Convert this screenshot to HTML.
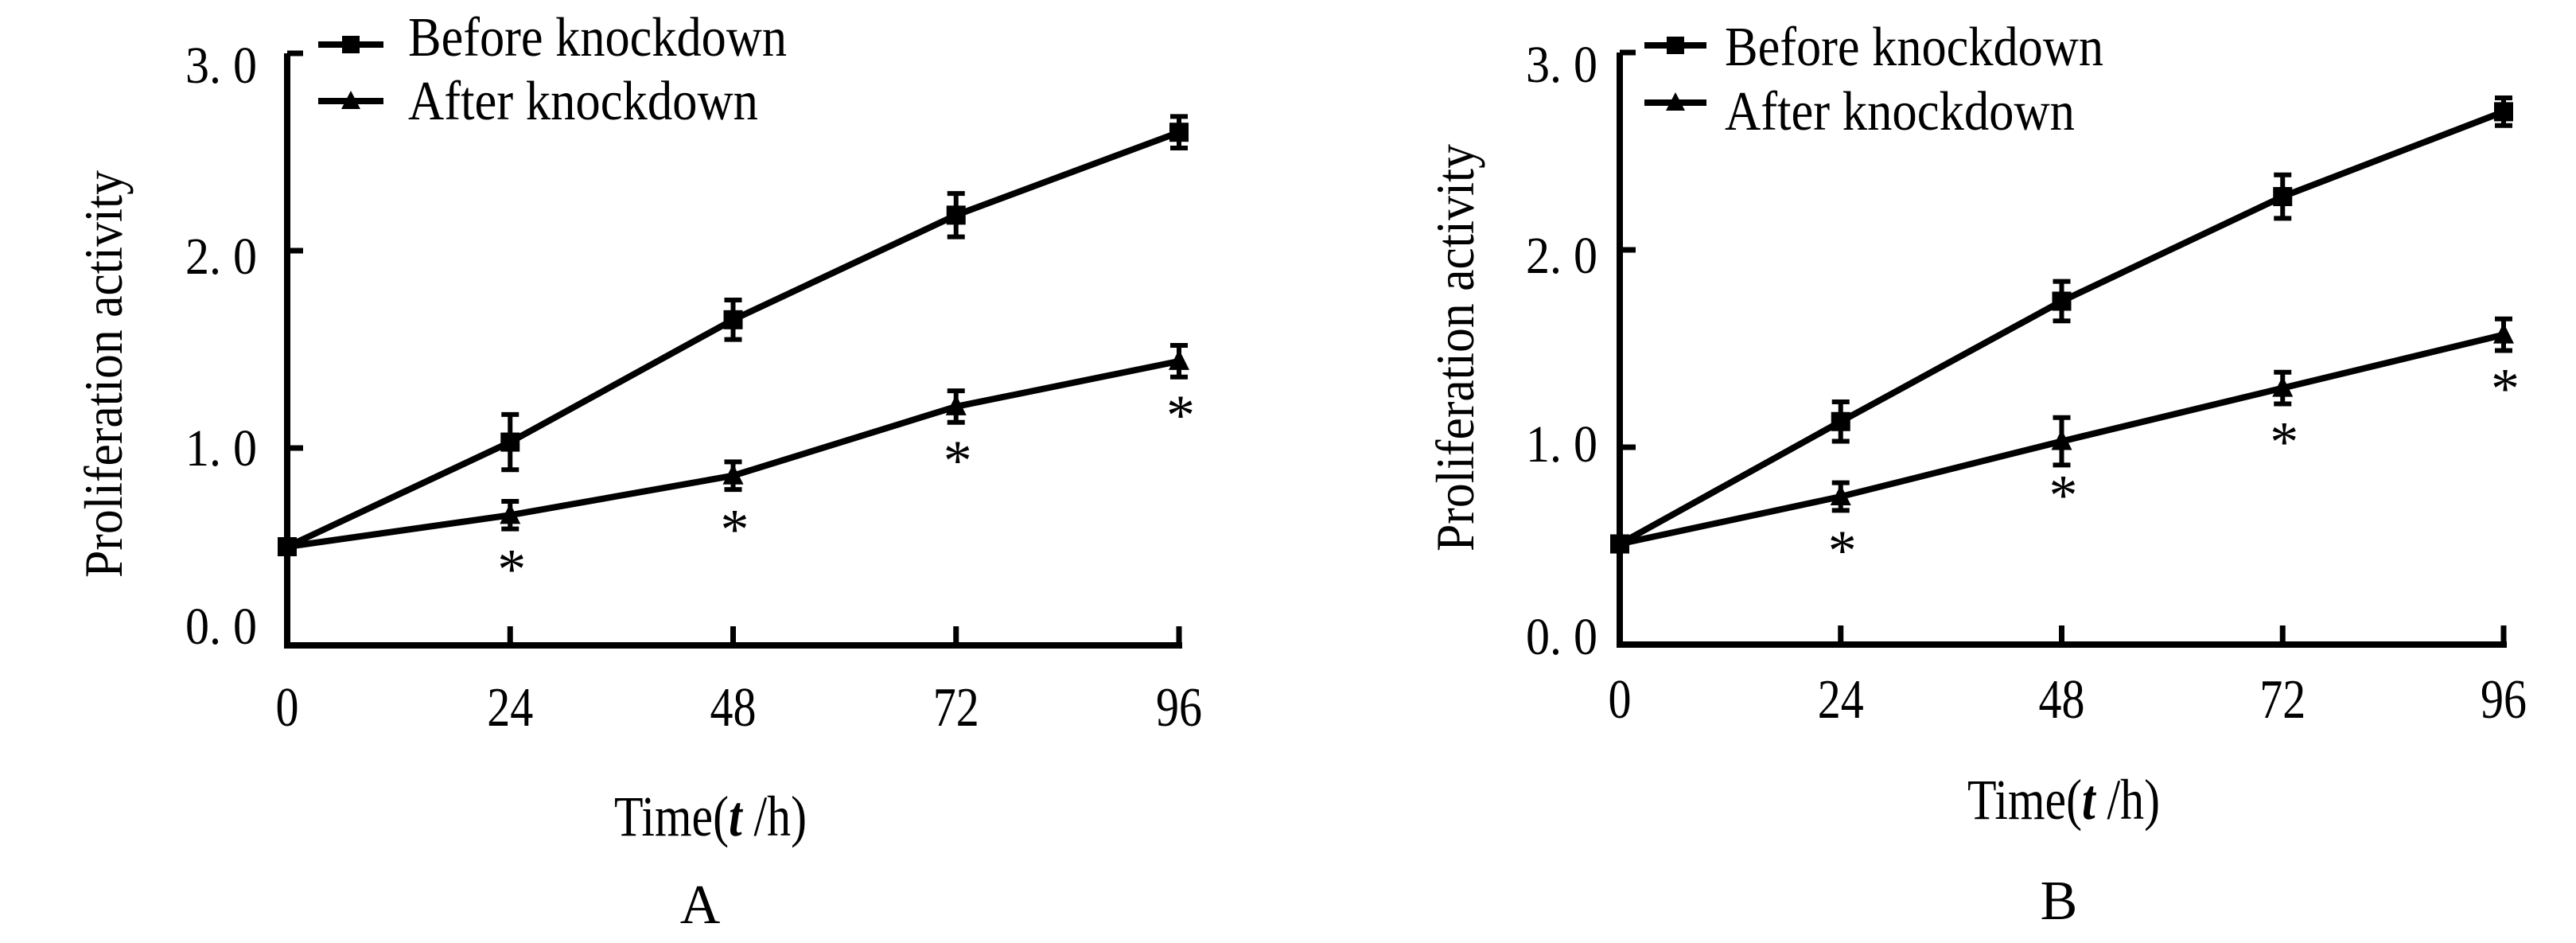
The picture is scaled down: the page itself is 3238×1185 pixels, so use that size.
<!DOCTYPE html>
<html><head><meta charset="utf-8"><style>
html,body{margin:0;padding:0;background:#fff;}
svg{display:block;}
text{font-family:"Liberation Serif",serif;fill:#000;}
</style></head><body>
<svg id="chart" xmlns="http://www.w3.org/2000/svg" width="3238" height="1185" viewBox="0 0 3238 1185"></svg>
<script>
const times = [0, 24, 48, 72, 96];
const xTickLabels = ["0", "24", "48", "72", "96"];
const yTicks = [0, 1, 2, 3];
const yTickLabels = ["0. 0", "1. 0", "2. 0", "3. 0"];
const beforeA = [0.50, 1.03, 1.65, 2.18, 2.60];
const beforeAErr = [0.03, 0.14, 0.10, 0.11, 0.08];
const afterA = [0.50, 0.66, 0.86, 1.21, 1.44];
const afterAErr = [0.03, 0.07, 0.07, 0.08, 0.08];
const beforeB = [0.51, 1.13, 1.74, 2.27, 2.70];
const beforeBErr = [0.03, 0.10, 0.10, 0.11, 0.07];
const afterB = [0.51, 0.75, 1.03, 1.30, 1.57];
const afterBErr = [0.03, 0.07, 0.12, 0.08, 0.08];
const sigFlags = [0, 1, 1, 1, 1];

const NS = "http://www.w3.org/2000/svg";
const svg = document.getElementById('chart');
function mk(tag, attrs, parent){
  const e = document.createElementNS(NS, tag);
  for (const k in attrs) e.setAttribute(k, attrs[k]);
  (parent || svg).appendChild(e);
  return e;
}
const panels = [
  {id:'a', x0:361, x96:1482, yZero:811, unit:248, before:beforeA, bErr:beforeAErr, after:afterA, aErr:afterAErr,
   legLine:[400,482], legY:[56,127], legText:513, legBase:[70,150],
   yLabRight:323, yLabBase:[809,585,344,104], yTitle:[131,470],
   xLabBase:912, xTitle:[893,1050], label:'A', labelPos:[880,1160]},
  {id:'b', x0:2036, x96:3147, yZero:810, unit:248, before:beforeB, bErr:beforeBErr, after:afterB, aErr:afterBErr,
   legLine:[2067,2145], legY:[57,129], legText:2168, legBase:[82,163],
   yLabRight:2008, yLabBase:[822,580,343,103], yTitle:[1830,437],
   xLabBase:902, xTitle:[2594,1029], label:'B', labelPos:[2588,1155]}
];
panels.forEach(p => {
  const g = mk('g', {});
  
  
  const X = t => p.x0 + (p.x96 - p.x0) * t / 96;
  const Y = v => p.yZero - v * p.unit;
  const ax = mk('path', {d:`M${p.x0},${Y(3)} V${p.yZero} H${X(96)+4}`, fill:'none', stroke:'#000', 'stroke-width':8}, g);
  
  
  yTicks.forEach((v,i) => {
    const tk = mk('line', {x1:p.x0, x2:p.x0+20, y1:Y(v), y2:Y(v), stroke:'#000', 'stroke-width':7}, g);
    
    
    const tl = mk('text', {x:p.yLabRight, y:p.yLabBase[i], 'font-size':66, 'text-anchor':'end', textLength:90, lengthAdjust:'spacingAndGlyphs'}, g);
    tl.textContent = yTickLabels[i];
    
    
  });
  times.forEach((t,i) => {
    if (i > 0) {
      const tk = mk('line', {x1:X(t), x2:X(t), y1:p.yZero, y2:p.yZero-24, stroke:'#000', 'stroke-width':7}, g);
      
      
    }
    const w = xTickLabels[i].length * 29;
    const tl = mk('text', {x:X(t), y:p.xLabBase, 'font-size':70, 'text-anchor':'middle', textLength:w, lengthAdjust:'spacingAndGlyphs'}, g);
    tl.textContent = xTickLabels[i];
    
    
  });
  [['before', p.before, p.bErr], ['after', p.after, p.aErr]].forEach(([name, vals, errs]) => {
    const pts = vals.map((v,i) => `${X(times[i])},${Y(v)}`).join(' ');
    const ln = mk('polyline', {points:pts, fill:'none', stroke:'#000', 'stroke-width':8}, g);
    
    
    vals.forEach((v,i) => {
      const cx = X(times[i]), cy = Y(v);
      if (i > 0) {
        const eb = mk('path', {d:`M${cx},${Y(v+errs[i])} V${Y(v-errs[i])} M${cx-11},${Y(v+errs[i])} H${cx+11} M${cx-11},${Y(v-errs[i])} H${cx+11}`, fill:'none', stroke:'#000', 'stroke-width':6}, g);
        
        
      }
      let m;
      if (name === 'before' || i === 0) m = mk('rect', {x:cx-12, y:cy-12, width:24, height:24, fill:'#000'}, g);
      else m = mk('polygon', {points:`${cx},${cy-15} ${cx-13},${cy+11} ${cx+13},${cy+11}`, fill:'#000'}, g);
      
      
    });
  });
  p.after.forEach((v,i) => {
    if (!sigFlags[i]) return;
    const s = mk('text', {x:X(times[i])+2, y:Y(v)+92, 'font-size':72, 'text-anchor':'middle'}, g);
    s.textContent = '*';
    
    
  });
  [['Before knockdown', 'square', 0], ['After knockdown', 'tri', 1]].forEach(([lab, mkType, j]) => {
    const lg = mk('g', {}, g);
    
    
    const y = p.legY[j], cx = (p.legLine[0] + p.legLine[1]) / 2;
    mk('line', {x1:p.legLine[0], x2:p.legLine[1], y1:y, y2:y, stroke:'#000', 'stroke-width':8}, lg);
    if (mkType === 'square') mk('rect', {x:cx-11, y:y-11, width:22, height:22, fill:'#000'}, lg);
    else mk('polygon', {points:`${cx},${y-13} ${cx-12},${y+10} ${cx+12},${y+10}`, fill:'#000'}, lg);
    const t = mk('text', {x:p.legText, y:p.legBase[j], 'font-size':70, textLength: j===0 ? 476 : 440, lengthAdjust:'spacingAndGlyphs'}, lg);
    t.textContent = lab;
  });
  const yt = mk('text', {x:0, y:0, 'font-size':68, 'text-anchor':'middle', textLength:512, lengthAdjust:'spacingAndGlyphs', transform:`translate(${p.yTitle[0]+22},${p.yTitle[1]}) rotate(-90)`}, g);
  yt.textContent = 'Proliferation activity';
  
  
  const xt = mk('text', {x:p.xTitle[0], y:p.xTitle[1], 'font-size':72, 'text-anchor':'middle', textLength:242, lengthAdjust:'spacingAndGlyphs'}, g);
  
  
  xt.innerHTML = 'Time(<tspan font-style="italic" font-weight="bold">t</tspan> /h)';
  const pl = mk('text', {x:p.labelPos[0], y:p.labelPos[1], 'font-size':70, 'text-anchor':'middle'}, g);
  pl.textContent = p.label;
  
  
});
</script>
</body></html>
